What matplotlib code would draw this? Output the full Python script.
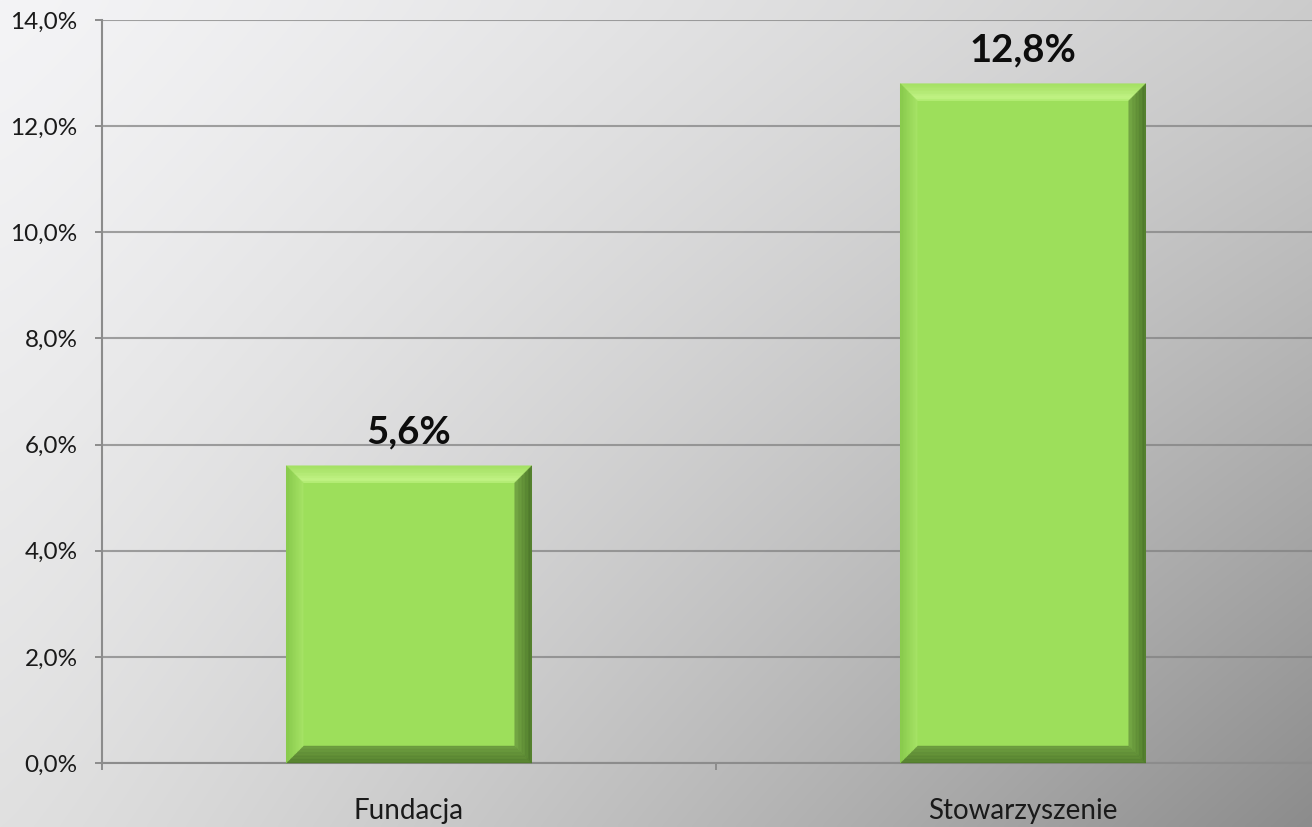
import numpy as np
import matplotlib
matplotlib.use("Agg")
import matplotlib.pyplot as plt
from matplotlib.patches import Polygon
from matplotlib.ticker import FuncFormatter, FixedLocator

categories = ["Fundacja", "Stowarzyszenie"]
values = [5.6, 12.8]
value_labels = ["5,6%", "12,8%"]
y_ticks = [0, 2, 4, 6, 8, 10, 12, 14]

plt.rcParams['font.family'] = ['Lato', 'DejaVu Sans']

W, H = 1312, 827
fig = plt.figure(figsize=(W / 100, H / 100), dpi=100)

# background gradient
bg = fig.add_axes([0, 0, 1, 1], zorder=0)
u = np.linspace(0, 1, 400)[None, :]
v = np.linspace(0, 1, 300)[:, None]
tl, tr, bl, br = 244, 204, 224, 140
top = tl + (tr - tl) * (u ** 1.2)
bot = bl + (br - bl) * (u ** 1.2)
val = top + (bot - top) * (v ** 1.15)
img = np.dstack([val, val, val + 2 * (1 - u) * (1 - v)]) / 255.0
bg.imshow(np.clip(img, 0, 1), aspect='auto', extent=[0, 1, 0, 1], interpolation='bilinear')
bg.axis('off')

ax = fig.add_axes([102 / W, 1 - 763 / H, (1330 - 102) / W, 743 / H], zorder=1)
ax.set_facecolor('none')
x = np.arange(len(categories))
bar_w = 0.4
bars = ax.bar(x, values, width=bar_w, color='#9ddf5b', zorder=3, linewidth=0)
ax.set_xlim(-0.5, 1.5)
ax.set_ylim(0, 14)
ax.set_yticks(y_ticks)
ax.yaxis.set_major_formatter(FuncFormatter(lambda t, p: f"{t:.1f}%".replace('.', ',')))
ax.set_xticks(x)
ax.set_xticklabels(categories)
ax.xaxis.set_minor_locator(FixedLocator([-0.5, 0.5, 1.5]))
ax.tick_params(axis='x', which='major', length=0, pad=25, labelsize=20, colors='#1a1a1a')
ax.tick_params(axis='x', which='minor', length=5, width=1.4, color='#8c8c8c')
ax.tick_params(axis='y', length=5, width=1.4, color='#8c8c8c', pad=12.5, labelsize=17.5, labelcolor='#1a1a1a')
ax.grid(axis='y', color='#808080', alpha=0.72, linewidth=1.5, zorder=1)
for s in ['top', 'right']:
    ax.spines[s].set_visible(False)
for s in ['left', 'bottom']:
    ax.spines[s].set_color('#8c8c8c')
    ax.spines[s].set_linewidth(1.5)

fig.canvas.draw()

# bevel effect, computed from bar geometry in display coordinates
b = 17.0
N = 12
def mix(c1, c2, t):
    c1 = np.array(matplotlib.colors.to_rgb(c1)); c2 = np.array(matplotlib.colors.to_rgb(c2))
    return c1 + (c2 - c1) * t

sides = {
    'top': ('#a3e063', '#c8f68c'),
    'left': ('#86c84a', '#a6e366'),
    'right': ('#4a7428', '#74a644'),
    'bottom': ('#527c2d', '#6c9c3f'),
}
for rect in bars:
    (x0, y0), (x1, y1) = ax.transData.transform([(rect.get_x(), 0), (rect.get_x() + rect.get_width(), rect.get_height())])
    for k in range(N):
        a = b * k / N
        c = b * (k + 1) / N
        t = (k + 0.5) / N
        polys = {
            'top': [(x0 + a, y1 - a), (x1 - a, y1 - a), (x1 - c, y1 - c), (x0 + c, y1 - c)],
            'bottom': [(x0 + a, y0 + a), (x1 - a, y0 + a), (x1 - c, y0 + c), (x0 + c, y0 + c)],
            'left': [(x0 + a, y0 + a), (x0 + a, y1 - a), (x0 + c, y1 - c), (x0 + c, y0 + c)],
            'right': [(x1 - a, y0 + a), (x1 - a, y1 - a), (x1 - c, y1 - c), (x1 - c, y0 + c)],
        }
        for name, pts in polys.items():
            col = mix(sides[name][0], sides[name][1], t)
            if name == 'top' and t > 0.75:
                col = mix('#c8f68c', '#b2ec74', (t - 0.75) / 0.25)
            fig.patches.append(Polygon(pts, closed=True, transform=None, facecolor=col,
                                       edgecolor=col, linewidth=0.3, zorder=4))

for xi, v_, lab in zip(x, values, value_labels):
    ax.annotate(lab, (xi, v_), xytext=(0, 16), textcoords='offset points', ha='center', va='baseline',
                fontsize=27.5, fontweight='bold', color='#0d0d0d', zorder=5)

fig.savefig('out.png', dpi=100)
